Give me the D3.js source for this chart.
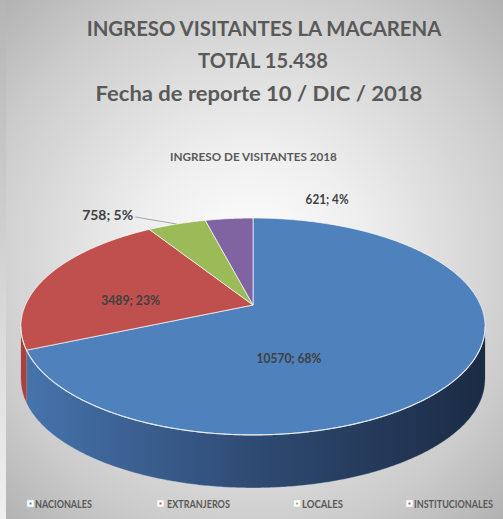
<!DOCTYPE html>
<html><head><meta charset="utf-8">
<script src="https://cdn.jsdelivr.net/npm/d3@7"></script>
<style>html,body{margin:0;padding:0;overflow:hidden;background:#fff}svg{display:block}</style>
</head><body>
<svg id="chart" width="503" height="519"></svg>
<script>
// ---------- data ----------
const titleLines = ["INGRESO VISITANTES LA MACARENA", "TOTAL 15.438", "Fecha de reporte 10 / DIC / 2018"];
const chartTitle = "INGRESO DE VISITANTES 2018";
const categories = ["NACIONALES", "EXTRANJEROS", "LOCALES", "INSTITUCIONALES"];
const values = [10570, 3489, 758, 621];

// ---------- styles / layout ----------
const topColors  = ["#4f81bd", "#c0504d", "#9bbb59", "#8064a2"];
const sideColors = ["url(#sideBlue)", "#a8423f", "#7f9a47", "#684f87"];
const FONT = "Lato, 'Open Sans', sans-serif";
const titleLayout = [{x: 264, y: 36, w: 355}, {x: 263, y: 68, w: 130}, {x: 259, y: 101, w: 327}];
const subLayout = {x: 253.5, y: 161, w: 167};
const P = {cx: 253, cy: 305, a: 227.5, b: 104.2, k: 0.198, depth: 53};
// label placement in pie polar terms (angle in degrees from 3 o'clock, radius fraction)
const labelPlace = [{ang: 73, r: 0.49, w: 65}, {ang: 185, r: 0.545, w: 59}, {ang: 233.2, r: 1.284, w: 51, leader: true}, {ang: 287.9, r: 1.323, w: 43}];
const legendLayout = {y: 508, items: [{mx: 27, tx: 35, w: 57}, {mx: 157, tx: 167, w: 63}, {mx: 293.5, tx: 302, w: 41}, {mx: 406, tx: 414, w: 79}]};

const svg = d3.select("#chart");
const W = 503, H = 519;
const defs = svg.append("defs");

const bg = defs.append("radialGradient").attr("id", "bg").attr("gradientUnits", "userSpaceOnUse")
  .attr("cx", 252).attr("cy", 260).attr("r", 390);
bg.append("stop").attr("offset", 0).attr("stop-color", "#ffffff");
bg.append("stop").attr("offset", 0.3).attr("stop-color", "#eeeeee");
bg.append("stop").attr("offset", 0.7).attr("stop-color", "#cccccc");
bg.append("stop").attr("offset", 1).attr("stop-color", "#a9a9a9");

const sb = defs.append("linearGradient").attr("id", "sideBlue").attr("gradientUnits", "userSpaceOnUse")
  .attr("x1", 21).attr("x2", 484).attr("y1", 0).attr("y2", 0);
sb.append("stop").attr("offset", 0).attr("stop-color", "#4774ad");
sb.append("stop").attr("offset", 0.5).attr("stop-color", "#2f4b73");
sb.append("stop").attr("offset", 1).attr("stop-color", "#1b2b44");

const leftStrip = defs.append("linearGradient").attr("id", "strip").attr("x1", 0).attr("x2", 0).attr("y1", 0).attr("y2", 1);
leftStrip.append("stop").attr("offset", 0).attr("stop-color", "#b5b5b5");
leftStrip.append("stop").attr("offset", 1).attr("stop-color", "#f0f0f0");

svg.append("rect").attr("width", W).attr("height", H).attr("fill", "url(#bg)");
svg.append("rect").attr("x", 0).attr("y", 0).attr("width", 6).attr("height", H).attr("fill", "url(#strip)");

// text placed at (x,y) with anchor, horizontally scaled to width w
function fitText(parent, x, y, anchor, w, size, fill, str) {
  const g = parent.append("g");
  const t = g.append("text").attr("x", 0).attr("y", 0).attr("text-anchor", anchor)
    .attr("font-family", FONT).attr("font-weight", 700).attr("font-size", size)
    .attr("fill", fill).text(str);
  const nat = t.node().getComputedTextLength() || w;
  const sx = w / nat;
  g.attr("transform", `translate(${x},${y}) scale(${sx},1)`);
  return t;
}

titleLines.forEach((t, i) => {
  fitText(svg, titleLayout[i].x, titleLayout[i].y, "middle", titleLayout[i].w, 21, "#595959", t);
});
fitText(svg, subLayout.x, subLayout.y, "middle", subLayout.w, 11, "#595959", chartTitle);

// ---------- 3D pie ----------
const pie = d3.pie().sort(null).value(d => d);
const arcs = pie(values);
const total = d3.sum(values);
const pct = d3.format(".0%");

function proj(theta, r, dz) {
  const c = Math.cos(theta) * r, s = Math.sin(theta) * r;
  const w = 1 - P.k * s;
  return [P.cx + P.a * c / w, P.cy + P.b * s / w + (dz || 0)];
}
function arcPts(t0, t1, r, dz) {
  const n = Math.max(2, Math.ceil(Math.abs(t1 - t0) / (Math.PI / 360)));
  return d3.range(n + 1).map(i => proj(t0 + (t1 - t0) * i / n, r, dz));
}
const toTheta = a => a - Math.PI / 2;
const visLo = Math.asin(P.k), visHi = Math.PI - Math.asin(P.k);
const line = d3.line();

// sides
const gSide = svg.append("g");
arcs.forEach((d, i) => {
  const t0 = Math.max(toTheta(d.startAngle), visLo), t1 = Math.min(toTheta(d.endAngle), visHi);
  if (t1 <= t0) return;
  const top = arcPts(t0, t1, 1, 0), bot = arcPts(t1, t0, 1, P.depth);
  gSide.append("path").attr("d", line(top.concat(bot)) + "Z").attr("fill", sideColors[i]);
  gSide.append("path").attr("d", line(arcPts(t0, t1, 1, P.depth))).attr("fill", "none")
    .attr("stroke", "#c9d3df").attr("stroke-opacity", 0.35).attr("stroke-width", 1);
});

// top faces
const gTop = svg.append("g");
arcs.forEach((d, i) => {
  const pts = [proj(0, 0)].concat(arcPts(toTheta(d.startAngle), toTheta(d.endAngle), 1, 0));
  gTop.append("path").attr("d", line(pts) + "Z").attr("fill", topColors[i])
    .attr("stroke", "#ffffff").attr("stroke-opacity", 0.75).attr("stroke-width", 0.9)
    .attr("stroke-linejoin", "round");
});
// front rim highlight
gTop.append("path").attr("d", line(arcPts(visLo, visHi, 1, 0))).attr("fill", "none")
  .attr("stroke", "#e8eef6").attr("stroke-width", 1.1).attr("stroke-opacity", 0.85);

// labels
const gLab = svg.append("g");
arcs.forEach((d, i) => {
  const L = labelPlace[i];
  const [x, y] = proj(L.ang * Math.PI / 180, L.r);
  const txt = values[i] + "; " + pct(values[i] / total);
  fitText(gLab, x, y + 4.5, "middle", L.w, 12.5, "#404040", txt);
  if (L.leader) {
    const mid = toTheta((d.startAngle + d.endAngle) / 2);
    const [ex, ey] = proj(mid, 1);
    gLab.append("line").attr("x1", x + L.w / 2 + 2).attr("y1", y + 1).attr("x2", ex).attr("y2", ey)
      .attr("stroke", "#a6a6a6").attr("stroke-width", 1);
  }
});

// legend
const gLeg = svg.append("g");
categories.forEach((c, i) => {
  const it = legendLayout.items[i];
  const y = legendLayout.y;
  gLeg.append("rect").attr("x", it.mx).attr("y", y - 8).attr("width", 7).attr("height", 7)
    .attr("fill", "#ffffff").attr("stroke", "#d0d0d0").attr("stroke-width", 0.6);
  gLeg.append("rect").attr("x", it.mx + 2.5).attr("y", y - 5.5).attr("width", 2).attr("height", 2)
    .attr("fill", topColors[i]);
  fitText(gLeg, it.tx, y, "start", it.w, 11, "#595959", c);
});
</script>
</body></html>
